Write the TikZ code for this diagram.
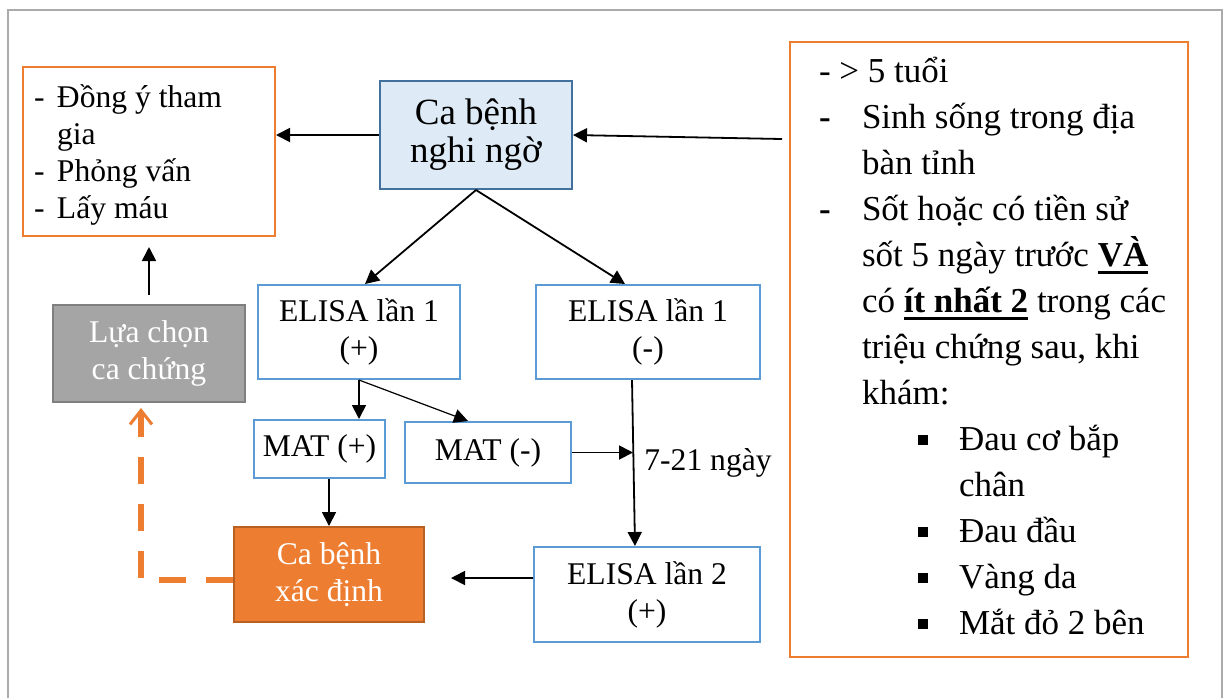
\documentclass[tikz,border=0pt]{standalone}
\usepackage{fontspec}
\setmainfont{Liberation Serif}
\usetikzlibrary{arrows.meta}

\definecolor{framegray}{HTML}{ABABAB}
\definecolor{boxblue}{HTML}{5B9BD5}
\definecolor{darkblue}{HTML}{41719C}
\definecolor{paleblue}{HTML}{DEEBF7}
\definecolor{caseorange}{HTML}{ED7D31}
\definecolor{darkorange}{HTML}{B85F22}
\definecolor{ctrlgray}{HTML}{A5A5A5}
\definecolor{darkgray}{HTML}{7F7F7F}

% bold text with a heavy underline
\newcommand{\boldul}[1]{\begingroup\setbox0\hbox{\textbf{#1}}\rlap{\rule[-3.5pt]{\wd0}{1.5pt}}\box0\endgroup}
\newcommand{\sqbullet}{\rule[3pt]{5pt}{5pt}}

\begin{document}
\begin{tikzpicture}[x=0.5pt, y=-0.5pt,
  smalltext/.style={font=\fontsize{15.8}{18.5}\selectfont},
  bluebox/.style={draw=boxblue, line width=1pt, smalltext, align=center, inner sep=0pt},
  arr/.style={-{Triangle[length=7pt,width=7pt]}, line width=0.9pt}]
  \useasboundingbox (0,0) rectangle (1230,698);

  % Outer frame
  \draw[framegray, line width=1pt] (8,698) -- (8,10) -- (1222,10) -- (1222,698);

  % Boxes
  \node[draw=caseorange, line width=1pt, smalltext, text width=115pt, inner xsep=5.5pt,
        inner ysep=0pt, minimum height=84.5pt] (consent) at (149,151.5)
    {\noindent\spaceskip=0pt\xspaceskip=0pt\begin{tabular}{@{}l@{}}
     \rule{0pt}{17.45pt}\makebox[11.5pt][l]{-}Đồng ý tham\\
     \hspace*{11.5pt}gia\\
     \makebox[11.5pt][l]{-}Phỏng vấn\\
     \makebox[11.5pt][l]{-}Lấy máu
     \end{tabular}};
  \node[draw=darkblue, fill=paleblue, line width=1pt, font=\fontsize{18.5}{19}\selectfont,
        align=center, minimum width=96pt, minimum height=54pt, inner sep=0pt] (suspect)
    at (476,135) {Ca bệnh\\nghi ngờ};
  \node[draw=caseorange, line width=1pt, font=\fontsize{17.5}{23}\selectfont, text width=170pt,
        inner xsep=14.5pt, inner ysep=0pt, minimum height=307.5pt] (criteria)
    at (989,349.5)
    {\noindent\spaceskip=0pt\xspaceskip=0pt\begin{tabular}{@{}l@{}}
     - > 5 tuổi\\
     \makebox[21.5pt][l]{\textbf{-}}Sinh sống trong địa\\
     \hspace*{21.5pt}bàn tỉnh\\
     \makebox[21.5pt][l]{\textbf{-}}Sốt hoặc có tiền sử\\
     \hspace*{21.5pt}sốt 5 ngày trước \boldul{VÀ}\\
     \hspace*{21.5pt}có \boldul{ít nhất 2} trong các\\
     \hspace*{21.5pt}triệu chứng sau, khi\\
     \hspace*{21.5pt}khám:\\
     \hspace*{49.5pt}\makebox[20.5pt][l]{\sqbullet}Đau cơ bắp\\
     \hspace*{70pt}chân\\
     \hspace*{49.5pt}\makebox[20.5pt][l]{\sqbullet}Đau đầu\\
     \hspace*{49.5pt}\makebox[20.5pt][l]{\sqbullet}Vàng da\\
     \hspace*{49.5pt}\makebox[20.5pt][l]{\sqbullet}Mắt đỏ 2 bên
     \end{tabular}};

  \node[bluebox, minimum width=101pt, minimum height=47pt] (elisa1p) at (359,332) {ELISA lần 1\\(+)};
  \node[bluebox, minimum width=112pt, minimum height=47pt] (elisa1n) at (648,332) {ELISA lần 1\\(-)};
  \node[bluebox, minimum width=65.5pt, minimum height=29pt] (matp) at (319.5,449) {MAT (+)};
  \node[bluebox, minimum width=83pt, minimum height=30.5pt] (matn) at (488,452.5) {MAT (-)};
  \node[bluebox, minimum width=113pt, minimum height=47.5pt] (elisa2) at (647,594.5) {ELISA lần 2\\(+)};
  \node[draw=darkorange, fill=caseorange, line width=1pt, smalltext, text=white, align=center,
        minimum width=95pt, minimum height=47.5pt, inner sep=0pt] (confirmed) at (329,574.5)
    {Ca bệnh\\xác định};
  \node[draw=darkgray, fill=ctrlgray, line width=1.2pt, smalltext, text=white, align=center,
        minimum width=96pt, minimum height=48.5pt, inner sep=0pt] (control) at (149,353.5)
    {Lựa chọn\\ca chứng};

  % Free ends of connectors
  \coordinate (critin) at (782,139);
  \coordinate (join) at (633,452.5);
  \coordinate (confin) at (451,578);
  \coordinate (ctrlin) at (141,408);

  % Connectors
  \draw[arr] (suspect.west) -- (suspect.west -| consent.east);
  \draw[arr] (critin) -- (suspect.east);
  \draw[arr] (suspect.south) -- ([xshift=3pt]elisa1p.north);
  \draw[arr] (suspect.south) -- ([xshift=-11.5pt]elisa1n.north);
  \draw[arr] (elisa1p.south) -- (elisa1p.south |- matp.north);
  \draw[arr, line width=0.6pt] (elisa1p.south) -- ([xshift=-10pt]matn.north);
  \draw[arr] (confirmed.north |- matp.south) -- (confirmed.north);
  \draw[arr] ([xshift=-8pt]elisa1n.south) -- ([xshift=-6pt]elisa2.north);
  \draw[arr] (matn.east) -- (join);
  \node[smalltext, anchor=base west, inner sep=0pt] (delay) at (644,470) {7-21 ngày};
  \draw[arr] (elisa2.west |- confin) -- (confin);
  \draw[arr, shorten <=4.5pt, shorten >=5pt] (control.north) -- (consent.south);
  \draw[caseorange, line width=3pt, dash pattern=on 13.5pt off 10pt,
        -{Straight Barb[length=7pt,width=11pt,line width=1.5pt]}]
    ([yshift=-2.75pt]confirmed.west) -| (ctrlin);
\end{tikzpicture}
\end{document}
